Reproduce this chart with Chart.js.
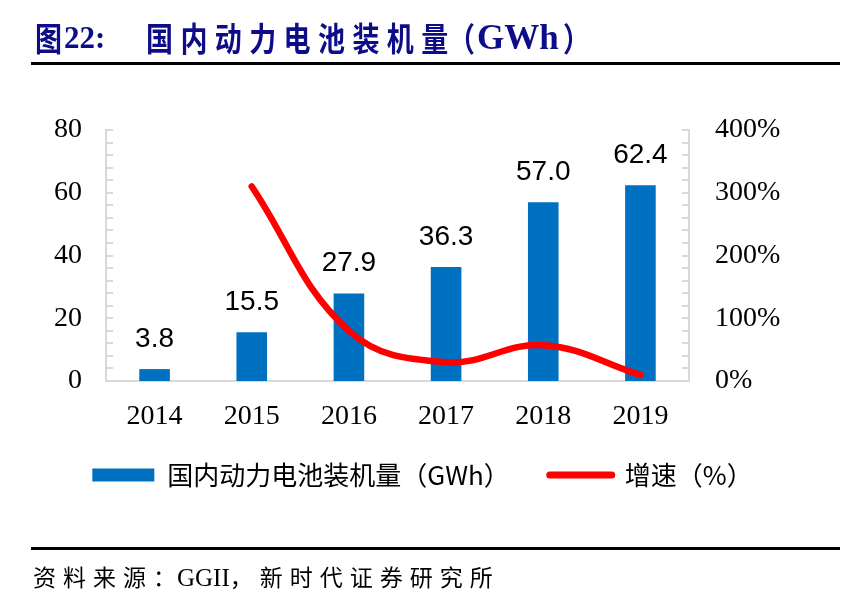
<!DOCTYPE html>
<html>
<head>
<meta charset="utf-8">
<script src="https://cdn.jsdelivr.net/npm/chart.js@4.4.0/dist/chart.umd.min.js"></script>
<style>
  body { margin: 0; background: #fff; }
  #page { position: relative; width: 859px; height: 616px; overflow: hidden; background: #fff; }
  #grafico { position: absolute; left: 0; top: 0; }
  .tt { position: absolute; top: 18px; line-height: 40px; color: #0d0d8a; font-weight: bold; white-space: nowrap; }
  .cjk { font-family: "Noto Sans CJK SC"; font-size: 27px; transform: scaleY(1.22); transform-origin: 50% 50%; }
  .lat { font-family: "Liberation Serif"; }
  .rule { position: absolute; left: 31px; width: 809px; height: 3px; background: #000; }
  #fonte { position: absolute; left: 33px; top: 561px; line-height: 30px; font-size: 23px; letter-spacing: 7px;
           font-family: "Noto Sans CJK SC"; color: #000; white-space: nowrap; }
</style>
</head>
<body>
<div id="page">
  <canvas id="grafico" width="859" height="616"></canvas>
  <div class="tt cjk" style="left:35px">图</div>
  <div class="tt lat" style="left:64px;font-size:31px">22:</div>
  <div class="tt cjk" style="left:146px;letter-spacing:7.4px">国内动力电池装机量</div>
  <div class="tt cjk" style="left:448px">（</div>
  <div class="tt lat" style="left:477px;font-size:35px">GWh</div>
  <div class="tt cjk" style="left:563px">）</div>
  <div class="rule" style="top:62px"></div>
  <div class="rule" style="top:547px"></div>
  <div id="fonte">资料来源：<span class="lat" style="font-size:25px;letter-spacing:0;margin-left:-6px">GGII</span>，新时代证券研究所</div>
</div>
<script>
const anos = ['2014', '2015', '2016', '2017', '2018', '2019'];
const capacidade = [3.8, 15.5, 27.9, 36.3, 57.0, 62.4];
const crescimento = [null, 310, 80, 30, 57, 9.6];
const nomes = ['国内动力电池装机量（GWh）', '增速（%）'];
const ticksEsq = [0, 20, 40, 60, 80];
const ticksDir = [0, 100, 200, 300, 400];

const azul = '#0070c0';
const vermelho = '#ff0000';
const cinza = '#d9d9d9';
const fonteNum = { family: 'Liberation Serif', size: 28 };

// small inward tick marks like the excel axes
const tracinhos = {
  id: 'tracinhos',
  afterDraw(chart) {
    const ctx = chart.ctx;
    const y = chart.scales.y, y1 = chart.scales.y1;
    ctx.save();
    ctx.strokeStyle = cinza;
    ctx.lineWidth = 2;
    for (let v = 0; v <= ticksEsq[ticksEsq.length - 1]; v += 4) {
      const py = Math.round(y.getPixelForValue(v));
      ctx.beginPath(); ctx.moveTo(y.right, py); ctx.lineTo(y.right + 7, py); ctx.stroke();
    }
    for (let v = 0; v <= ticksDir[ticksDir.length - 1]; v += 20) {
      const py = Math.round(y1.getPixelForValue(v));
      ctx.beginPath(); ctx.moveTo(y1.left, py); ctx.lineTo(y1.left - 7, py); ctx.stroke();
    }
    ctx.restore();
  }
};

// values above the bars
const rotulos = {
  id: 'rotulos',
  afterDatasetsDraw(chart) {
    const ctx = chart.ctx;
    const meta = chart.getDatasetMeta(0);
    ctx.save();
    ctx.font = '28px "Liberation Sans"';
    ctx.fillStyle = '#000';
    ctx.textAlign = 'center';
    ctx.textBaseline = 'alphabetic';
    meta.data.forEach((bar, i) => {
      ctx.fillText(capacidade[i].toFixed(1), bar.x, bar.y - 22);
    });
    ctx.restore();
  }
};

const graph = new Chart(document.getElementById('grafico').getContext('2d'), {
  type: 'bar',
  data: {
    labels: anos,
    datasets: [{
      label: nomes[0],
      data: capacidade,
      backgroundColor: azul,
      borderWidth: 0,
      barPercentage: 0.315,
      categoryPercentage: 1,
      yAxisID: 'y',
      order: 1
    }, {
      type: 'line',
      label: nomes[1],
      data: crescimento,
      borderColor: vermelho,
      backgroundColor: vermelho,
      borderWidth: 6.5,
      borderCapStyle: 'round',
      pointRadius: 0,
      tension: 0.4,
      yAxisID: 'y1',
      order: 0
    }]
  },
  options: {
    responsive: false,
    animation: false,
    layout: { padding: { top: 130, left: 0, right: 14, bottom: 118 } },
    plugins: {
      tooltip: { enabled: false },
      legend: {
        position: 'bottom',
        labels: {
          font: { family: 'Noto Sans CJK SC', size: 26 },
          color: '#000',
          usePointStyle: true,
          pointStyleWidth: 62,
          boxHeight: 13,
          padding: 27,
          generateLabels(chart) {
            return chart.data.datasets.map((ds, i) => ({
              text: i ? ds.label : ds.label + '\u2002',
              datasetIndex: i,
              fillStyle: ds.backgroundColor,
              strokeStyle: i ? ds.borderColor : ds.backgroundColor,
              lineWidth: i ? 7 : 0,
              lineCap: 'round',
              pointStyle: i ? 'line' : 'rect',
              hidden: false,
              fontColor: '#000'
            }));
          }
        }
      }
    },
    scales: {
      x: {
        grid: { display: false, drawTicks: false },
        border: { display: true, color: cinza, width: 2 },
        ticks: { font: fonteNum, color: '#000', padding: 19 },
        afterFit(s) { s.height = 54; }
      },
      y: {
        position: 'left',
        min: 0, max: 80,
        afterBuildTicks(s) { s.ticks = ticksEsq.map(v => ({ value: v })); },
        grid: { display: false, drawTicks: false },
        border: { display: true, color: cinza, width: 2 },
        ticks: { font: fonteNum, color: '#000', padding: 24 },
        afterFit(s) { s.width = 106; }
      },
      y1: {
        position: 'right',
        min: 0, max: 400,
        afterBuildTicks(s) { s.ticks = ticksDir.map(v => ({ value: v })); },
        grid: { display: false, drawTicks: false },
        border: { display: true, color: cinza, width: 2 },
        ticks: { font: fonteNum, color: '#000', padding: 26, callback: v => v + '%' },
        afterFit(s) { s.width = 156; }
      }
    }
  },
  plugins: [tracinhos, rotulos]
});
</script>
</body>
</html>
